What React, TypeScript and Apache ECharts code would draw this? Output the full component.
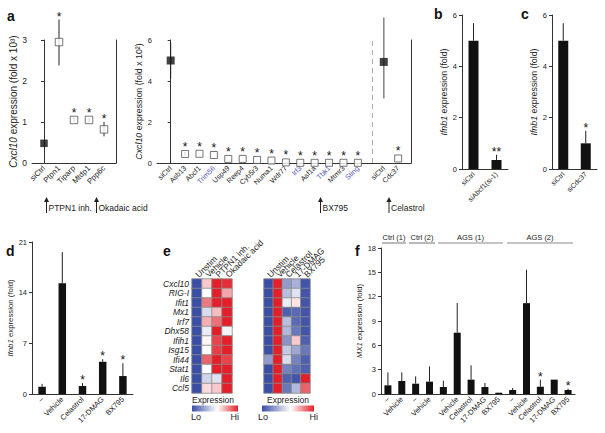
import React, { useEffect, useRef } from 'react';
import * as echarts from 'echarts';

const FONT = '"Liberation Sans", Arial, Helvetica, sans-serif';
const TXT = '#222';
const AX = '#333';
const BLUE_LABEL = '#5856b8';
const HEAT_COLORS = ['#3a4ea5', '#ffffff', '#e3202a'];

// ---- panel a (left)
const aLeftCats = ['siCtrl', 'Ptpn1', 'Tiparp', 'Mtdp1', 'Ppp6c'];
const aLeftVal = [0.48, 2.95, 1.05, 1.05, 0.82];
const aLeftLo = [0.48, 2.38, 1.0, 1.0, 0.65];
const aLeftHi = [0.48, 3.5, 1.12, 1.1, 1.0];
const aLeftStars = [0, 1, 1, 1, 1];

// ---- panel a (middle)
const aMidCats = ['siCtrl', 'Asb13', 'Abcf1', 'Trim56', 'Usp49', 'Reep4', 'Cyb5r3', 'Numa1', 'Wdr77', 'Irf3', 'Asf1a', 'Tbk1', 'Mtmr3', 'Sting', 'siCtrl', 'Cdc37'];
const aMidVal = [5.0, 0.44, 0.45, 0.39, 0.2, 0.2, 0.15, 0.12, 0.03, 0.01, 0.01, 0.01, 0.01, 0.01, 4.93, 0.22];
const aMidLo = [4.12, 0.36, 0.45, 0.39, 0.2, 0.2, 0.15, 0.12, 0.03, 0.01, 0.01, 0.01, 0.01, 0.01, 3.15, 0.22];
const aMidHi = [5.87, 0.55, 0.45, 0.39, 0.2, 0.2, 0.15, 0.12, 0.03, 0.01, 0.01, 0.01, 0.01, 0.01, 7.1, 0.22];
const aMidStars = [0, 1, 1, 1, 1, 1, 1, 1, 1, 1, 1, 1, 1, 1, 0, 1];
const aMidControl = [true, false, false, false, false, false, false, false, false, false, false, false, false, false, true, false];
const aMidBlue = ['Trim56', 'Irf3', 'Tbk1', 'Sting'];

// ---- panel b
const bCats = ['siCtrl', 'siAbcf1(si-1)'];
const bVal = [5.0, 0.35];
const bErr = [5.68, 0.55];
const bStars = [0, 2];

// ---- panel c
const cCats = ['siCtrl', 'siCdc37'];
const cVal = [5.0, 1.0];
const cErr = [5.68, 1.49];
const cStars = [0, 1];

// ---- panel d
const dCats = ['–', 'Vehicle', 'Celastrol', '17-DMAG', 'BX795'];
const dVal = [1.0, 15.3, 1.1, 4.45, 2.48];
const dErr = [1.4, 19.6, 1.5, 4.8, 4.25];
const dStars = [0, 0, 1, 1, 1];

// ---- panel e
const heatGenes = ['Cxcl10', 'RIG-I', 'Ifit1', 'Mx1', 'Irf7', 'Dhx58', 'Ifih1', 'Isg15', 'Ifi44', 'Stat1', 'Il6', 'Ccl5'];
const heatLeftConds = ['Unstim', 'Vehicle', 'PTPN1 inh.', 'Okadaic acid'];
const heatLeftVals = [
  [0, 0.62, 1, 0.97],
  [0, 0.5, 1, 0.7],
  [0, 0.8, 1, 1],
  [0, 0.4, 0.65, 1],
  [0, 0.68, 0.82, 1],
  [0, 0.45, 1, 0.47],
  [0, 0.52, 0.92, 1],
  [0, 0.5, 0.93, 1],
  [0, 0.85, 1, 0.92],
  [0, 0.5, 1, 1],
  [0, 0.38, 0.42, 1],
  [0, 0.58, 0.62, 1],
];
const heatRightConds = ['Unstim', 'Vehicle', 'Celastrol', '17-DMAG', 'BX795'];
const heatRightVals = [
  [0, 1, 0.22, 0.28, 0.02],
  [0, 1, 0.32, 0.42, 0.02],
  [0, 1, 0.45, 0.56, 0.02],
  [0, 1, 0.05, 0.08, 0.02],
  [0, 1, 0.32, 0.08, 0.02],
  [0, 1, 0.3, 0.12, 0.02],
  [0, 1, 0.2, 0.62, 0.05],
  [0, 1, 0.35, 0.25, 0.12],
  [0.22, 1, 0.4, 0.15, 0.05],
  [0, 1, 0.15, 0.1, 0.05],
  [0, 1, 0.05, 0.02, 1],
  [0, 1, 0.12, 0.3, 0.85],
];

// ---- panel f
const fCats = ['–', 'Vehicle', '–', 'Vehicle', '–', 'Vehicle', 'Celastrol', '17-DMAG', 'BX795', '–', 'Vehicle', 'Celastrol', '17-DMAG', 'BX795'];
const fVal = [1.07, 1.6, 1.27, 1.52, 0.86, 7.56, 1.77, 0.86, 0.16, 0.49, 11.2, 0.9, 1.77, 0.49];
const fErr = [2.67, 2.67, 2.18, 3.41, 1.64, 11.22, 3.53, 1.36, 0.16, 0.74, 15.33, 1.77, 1.77, 0.66];
const fStars = [0, 0, 0, 0, 0, 0, 0, 0, 0, 0, 0, 1, 0, 1];
const fGroups = ['Ctrl (1)', 'Ctrl (2)', 'AGS (1)', 'AGS (2)'];

function errRender(markerHalf: number) {
  return (params: any, api: any) => {
    const x = api.value(0);
    const y = api.value(1);
    const lo = api.value(2);
    const hi = api.value(3);
    const n = api.value(4);
    const gray = api.value(5);
    const p = api.coord([x, y]);
    const pLo = api.coord([x, lo]);
    const pHi = api.coord([x, hi]);
    const children: any[] = [];
    if (hi > lo) {
      children.push({
        type: 'line',
        shape: { x1: p[0], y1: pLo[1], x2: p[0], y2: pHi[1] },
        style: { stroke: gray ? '#8a8a8a' : '#222', lineWidth: gray ? 1.6 : 1, fill: null },
      });
    }
    if (n > 0) {
      const top = Math.min(pHi[1], p[1] - markerHalf);
      children.push({
        type: 'text',
        x: p[0],
        y: top - 3,
        style: {
          text: '*'.repeat(n),
          fill: '#111',
          stroke: null,
          fontSize: 12,
          fontFamily: FONT,
          align: 'center',
          verticalAlign: 'middle',
        },
      });
    }
    return { type: 'group', children };
  };
}

function yAxisBase(gridIndex: number, min: number, max: number, interval: number, name: string, nameGap: number, nameSize: number, tickSize: number) {
  return {
    type: 'value',
    gridIndex,
    min,
    max,
    interval,
    name,
    nameLocation: 'middle',
    nameGap,
    nameTextStyle: {
      fontSize: nameSize,
      color: TXT,
      fontFamily: FONT,
      rich: { i: { fontStyle: 'italic', fontSize: nameSize, color: TXT, fontFamily: FONT } },
    },
    axisLine: { show: true, lineStyle: { color: AX, width: 1 } },
    axisTick: { show: true, length: 3, lineStyle: { color: AX } },
    axisLabel: { fontSize: tickSize, color: TXT, fontFamily: FONT, margin: 5 },
    splitLine: { show: false },
  };
}

function frameAxis(gridIndex: number, min: number, max: number) {
  return {
    type: 'value',
    gridIndex,
    position: 'right',
    min,
    max,
    axisLine: { show: true, lineStyle: { color: AX, width: 1 } },
    axisTick: { show: false },
    axisLabel: { show: false },
    splitLine: { show: false },
  };
}

function catAxis(gridIndex: number, cats: string[], size: number) {
  return {
    type: 'category',
    gridIndex,
    data: cats.map((_, i) => 'k' + i),
    axisLine: { show: true, onZero: false, lineStyle: { color: AX, width: 1 } },
    axisTick: { show: false },
    axisLabel: {
      interval: 0,
      rotate: 45,
      fontSize: size,
      color: TXT,
      fontFamily: FONT,
      margin: 4,
      formatter: (_v: string, i: number) => cats[i],
    },
    splitLine: { show: false },
  };
}

function arrowGraphic(x: number, top: number, bottom: number, label: string) {
  return [
    { type: 'line', shape: { x1: x, y1: top + 4, x2: x, y2: bottom }, style: { stroke: '#222', lineWidth: 1 } },
    { type: 'polygon', shape: { points: [[x - 2.5, top + 5], [x + 2.5, top + 5], [x, top]] }, style: { fill: '#222' } },
    { type: 'text', x: x + 2, y: (top + bottom) / 2 + 3, style: { text: label, fill: TXT, fontSize: 8.5, fontFamily: FONT, verticalAlign: 'middle' } },
  ];
}

function panelLetter(x: number, y: number, t: string) {
  return { type: 'text', x, y, style: { text: t, fill: '#111', fontSize: 14, fontWeight: 'bold', fontFamily: FONT } };
}

function buildOption() {
  const midPos = aMidCats.map((_, i) => (i < 14 ? i : i + 0.8));
  const leftPos = aLeftCats.map((_, i) => i);

  const grids = [
    { left: 32, top: 40, width: 84, height: 123 },
    { left: 157, top: 40, width: 254, height: 123 },
    { left: 462, top: 15, width: 46, height: 154 },
    { left: 552, top: 15, width: 45, height: 154 },
    { left: 32, top: 242, width: 101, height: 152 },
    { left: 192, top: 279, width: 40, height: 114 },
    { left: 264, top: 279, width: 46, height: 114 },
    { left: 381, top: 248, width: 194, height: 146 },
  ];

  const valueXAxis = (gridIndex: number, min: number, max: number, pos: number[], fmt: (i: number) => string, size: number) => ({
    type: 'value',
    gridIndex,
    min,
    max,
    axisLine: { show: true, lineStyle: { color: AX, width: 1 } },
    axisTick: { show: false },
    splitLine: { show: false },
    axisLabel: {
      customValues: pos,
      rotate: 45,
      fontSize: size,
      color: TXT,
      fontFamily: FONT,
      margin: 4,
      formatter: (v: number) => {
        const i = pos.findIndex((p) => Math.abs(p - v) < 1e-6);
        return i < 0 ? '' : fmt(i);
      },
      rich: {
        n: { color: TXT, fontSize: size, fontFamily: FONT },
        b: { color: BLUE_LABEL, fontSize: size, fontFamily: FONT },
      },
    },
  });

  const heatX = (gridIndex: number, cats: string[]) => ({
    type: 'category',
    gridIndex,
    position: 'top',
    data: cats,
    axisLine: { show: false },
    axisTick: { show: false },
    axisLabel: { interval: 0, rotate: -45, fontSize: 8.5, color: TXT, fontFamily: FONT, margin: 3 },
    splitLine: { show: false },
  });

  const xAxes = [
    valueXAxis(0, -0.8, 4.8, leftPos, (i) => `{n|${aLeftCats[i]}}`, 7.8),
    valueXAxis(1, -0.95, 16.69, midPos, (i) => (aMidBlue.includes(aMidCats[i]) ? `{b|${aMidCats[i]}}` : `{n|${aMidCats[i]}}`), 7.2),
    catAxis(2, bCats, 7),
    catAxis(3, cCats, 7),
    catAxis(4, dCats, 7.5),
    heatX(5, heatLeftConds),
    heatX(6, heatRightConds),
    catAxis(7, fCats, 7.5),
  ];

  const heatY = (gridIndex: number, showLabels: boolean) => ({
    type: 'category',
    gridIndex,
    inverse: true,
    data: heatGenes,
    axisLine: { show: false },
    axisTick: { show: false },
    axisLabel: { show: showLabels, interval: 0, fontSize: 8.5, fontStyle: 'italic', color: TXT, fontFamily: FONT, margin: 3 },
    splitLine: { show: false },
  });

  const yAxes: any[] = [
    yAxisBase(0, 0, 3, 1, '{i|Cxcl10} expression (fold x 10³)', 12, 10, 8.5),
    yAxisBase(1, 0, 6, 2, '{i|Cxcl10} expression (fold x 10²)', 11, 8.8, 7.5),
    yAxisBase(2, 0, 6, 2, '{i|Ifnb1} expression (fold)', 9, 8.8, 7.5),
    yAxisBase(3, 0, 6, 2, '{i|Ifnb1} expression (fold)', 13, 8.8, 7.5),
    yAxisBase(4, 0, 21, 7, '{i|Ifnb1} expression (fold)', 9, 7.8, 7.5),
    heatY(5, true),
    heatY(6, false),
    yAxisBase(7, 0, 18, 3, '{i|MX1} expression (fold)', 14, 7.6, 7.5),
    frameAxis(0, 0, 3),
    frameAxis(1, 0, 6),
  ];

  const series: any[] = [];

  // panel a left
  series.push({
    type: 'custom',
    xAxisIndex: 0,
    yAxisIndex: 0,
    z: 2,
    itemStyle: { color: '#111' },
    renderItem: errRender(4),
    encode: { x: 0, y: 1 },
    data: aLeftCats.map((_, i) => [leftPos[i], aLeftVal[i], aLeftLo[i], aLeftHi[i], aLeftStars[i], 0]),
  });
  series.push({
    type: 'scatter',
    xAxisIndex: 0,
    yAxisIndex: 0,
    z: 3,
    symbol: 'rect',
    data: aLeftCats.map((_, i) => ({
      value: [leftPos[i], aLeftVal[i]],
      symbolSize: 7.5,
      itemStyle: i === 0 ? { color: '#111', borderColor: '#111', borderWidth: 0 } : { color: '#fff', borderColor: '#555', borderWidth: 1 },
    })),
  });

  // panel a middle
  series.push({
    type: 'custom',
    xAxisIndex: 1,
    yAxisIndex: 1,
    z: 2,
    itemStyle: { color: '#111' },
    renderItem: errRender(4),
    encode: { x: 0, y: 1 },
    data: aMidCats.map((_, i) => [midPos[i], aMidVal[i], aMidLo[i], aMidHi[i], aMidStars[i], i === 14 ? 1 : 0]),
  });
  series.push({
    type: 'scatter',
    xAxisIndex: 1,
    yAxisIndex: 1,
    z: 3,
    symbol: 'rect',
    data: aMidCats.map((_, i) => ({
      value: [midPos[i], aMidVal[i]],
      symbolSize: aMidControl[i] ? 8 : 7,
      itemStyle: aMidControl[i] ? { color: '#111', borderWidth: 0 } : { color: '#fff', borderColor: '#555', borderWidth: 1 },
    })),
    markLine: {
      silent: true,
      symbol: 'none',
      label: { show: false },
      lineStyle: { type: [5, 4], color: '#aaa', width: 1 },
      data: [{ xAxis: 14 }],
    },
  });

  const barPanel = (idx: number, vals: number[], errs: number[], stars: number[], width: number) => {
    series.push({
      type: 'bar',
      xAxisIndex: idx,
      yAxisIndex: idx,
      barWidth: width,
      z: 2,
      itemStyle: { color: '#111' },
      data: vals,
    });
    series.push({
      type: 'custom',
      xAxisIndex: idx,
      yAxisIndex: idx,
      z: 3,
      itemStyle: { color: '#111' },
      renderItem: errRender(0),
      encode: { x: 0, y: 1 },
      data: vals.map((v, i) => [i, v, v, errs[i], stars[i], 0]),
    });
  };

  barPanel(2, bVal, bErr, bStars, 10);
  barPanel(3, cVal, cErr, cStars, 10);
  barPanel(4, dVal, dErr, dStars, 7.5);

  const heatLeftIdx = series.length;
  series.push({
    type: 'heatmap',
    xAxisIndex: 5,
    yAxisIndex: 5,
    itemStyle: { borderColor: '#8c8c8c', borderWidth: 0.8 },
    data: heatLeftVals.flatMap((row, r) => row.map((v, c) => [c, r, v])),
  });
  const heatRightIdx = series.length;
  series.push({
    type: 'heatmap',
    xAxisIndex: 6,
    yAxisIndex: 6,
    itemStyle: { borderColor: '#8c8c8c', borderWidth: 0.8 },
    data: heatRightVals.flatMap((row, r) => row.map((v, c) => [c, r, v])),
  });

  barPanel(7, fVal, fErr, fStars, 7);

  const grad = () =>
    new echarts.graphic.LinearGradient(0, 0, 1, 0, [
      { offset: 0, color: HEAT_COLORS[0] },
      { offset: 0.55, color: HEAT_COLORS[1] },
      { offset: 1, color: HEAT_COLORS[2] },
    ]);

  const smallText = (x: number, y: number, t: string, align: string, size = 8) => ({
    type: 'text',
    x,
    y,
    style: { text: t, fill: TXT, fontSize: size, fontFamily: FONT, align, verticalAlign: 'middle' },
  });

  const fHeaderSpans = [
    [382, 406],
    [409, 435],
    [438, 503],
    [507, 573],
  ];

  const graphics: any[] = [
    panelLetter(7, 9, 'a'),
    panelLetter(434, 7, 'b'),
    panelLetter(521, 7, 'c'),
    panelLetter(6, 244, 'd'),
    panelLetter(163, 244, 'e'),
    panelLetter(355, 244, 'f'),
    ...arrowGraphic(46.5, 197, 213, 'PTPN1 inh.'),
    ...arrowGraphic(96.5, 197, 213, 'Okadaic acid'),
    ...arrowGraphic(320.5, 197, 213, 'BX795'),
    ...arrowGraphic(389, 197, 213, 'Celastrol'),
    { type: 'rect', shape: { x: 192, y: 405.5, width: 46, height: 6 }, style: { fill: grad() } },
    { type: 'rect', shape: { x: 262, y: 405.5, width: 52, height: 6 }, style: { fill: grad() } },
    smallText(213, 399.5, 'Expression', 'center', 8.5),
    smallText(288, 399.5, 'Expression', 'center', 8.5),
    smallText(191, 417, 'Lo', 'left', 9),
    smallText(239, 417, 'Hi', 'right', 9),
    smallText(258, 417, 'Lo', 'left', 9),
    smallText(318, 417, 'Hi', 'right', 9),
    ...fGroups.flatMap((g, i) => [
      smallText((fHeaderSpans[i][0] + fHeaderSpans[i][1]) / 2, 237.5, g, 'center', 7.5),
      { type: 'line', shape: { x1: fHeaderSpans[i][0], y1: 243, x2: fHeaderSpans[i][1], y2: 243 }, style: { stroke: '#8a8a8a', lineWidth: 1.2 } },
    ]),
  ];

  return {
    animation: false,
    backgroundColor: '#fff',
    textStyle: { fontFamily: FONT },
    grid: grids,
    xAxis: xAxes,
    yAxis: yAxes,
    visualMap: [
      { type: 'continuous', show: false, seriesIndex: heatLeftIdx, min: 0, max: 1, inRange: { color: HEAT_COLORS } },
      { type: 'continuous', show: false, seriesIndex: heatRightIdx, min: 0, max: 1, inRange: { color: HEAT_COLORS } },
    ],
    series,
    graphic: graphics,
  };
}

export default function App() {
  const ref = useRef<HTMLDivElement>(null);
  useEffect(() => {
    if (!ref.current) return;
    const chart = echarts.init(ref.current, undefined, { renderer: 'svg' });
    chart.setOption(buildOption() as any);
    return () => chart.dispose();
  }, []);
  return (
    <div
      ref={ref}
      style={{ position: 'absolute', left: 0, top: 0, width: 605, height: 433, background: '#fff' }}
    />
  );
}
